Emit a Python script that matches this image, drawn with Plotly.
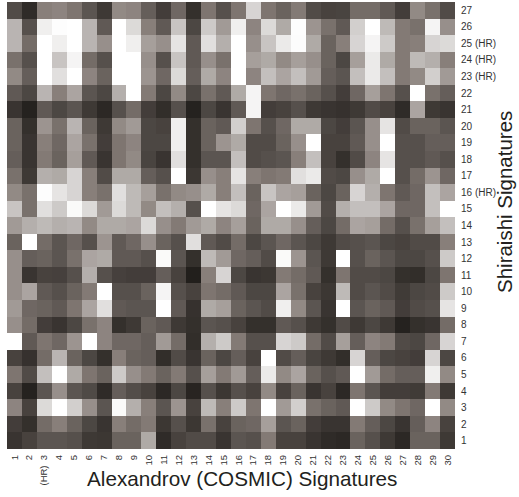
import plotly.graph_objects as go

x_labels = [str(i) for i in range(1, 31)]
x_labels[2] = "(HR)\u00a0\u00a03"
y_labels = [str(i) for i in range(1, 28)]
y_labels[15] = "16 (HR)"
y_labels[22] = "23 (HR)"
y_labels[23] = "24 (HR)"
y_labels[24] = "25 (HR)"
x_title = "Alexandrov (COSMIC) Signatures"
y_title = "Shiraishi Signatures"

# Brightness of each cell, top row (27) first, columns 1..30
row27 = [80,45,135,140,125,90,60,145,140,100,65,110,50,125,85,125,215,125,105,130,80,70,72,115,115,95,65,145,120,80]
row26 = [185,85,240,253,255,185,95,255,220,135,95,200,75,205,160,240,140,220,175,253,155,120,95,210,255,190,130,120,245,150]
row25 = [185,115,255,240,255,185,150,255,240,165,150,230,95,225,180,255,150,200,235,252,175,105,135,215,245,205,130,135,215,220]
row24 = [120,85,255,200,245,115,85,255,255,150,85,200,95,150,120,255,165,175,145,165,150,105,75,165,235,175,130,190,180,135]
row23 = [145,100,255,225,255,140,105,255,255,155,110,220,100,175,140,255,140,195,170,195,160,100,90,195,235,195,130,145,210,160]
row22 = [95,75,185,135,170,90,75,180,255,130,75,145,75,120,95,175,245,125,110,120,105,85,65,110,165,125,85,255,120,100]
row21 = [55,35,95,75,90,60,42,85,115,65,48,85,35,75,55,95,245,65,70,85,60,55,52,60,80,70,45,170,60,55]
row20 = [105,50,155,120,185,105,60,145,160,75,70,240,50,105,95,210,125,85,110,175,175,75,65,90,150,230,80,105,105,90]
row19 = [105,55,135,110,170,120,65,125,140,75,75,240,50,105,155,175,80,80,105,150,255,70,70,95,150,255,85,85,100,100]
row18 = [100,55,130,105,165,95,55,125,145,72,55,225,50,90,90,195,80,85,90,135,195,70,50,80,140,230,85,85,95,85]
row17 = [120,60,180,175,215,135,80,175,175,100,85,255,58,150,135,230,135,125,130,225,235,80,75,150,175,255,85,115,155,110]
row16 = [145,120,253,230,215,135,120,225,190,165,120,145,150,175,135,195,105,200,170,165,105,75,105,215,180,125,95,110,195,170]
row15 = [200,120,225,205,250,220,160,220,190,145,195,180,85,255,230,220,110,170,255,235,160,80,180,195,195,170,110,110,195,255]
row14 = [160,180,190,180,185,145,175,175,170,220,150,130,160,175,140,165,105,175,175,150,100,75,115,170,165,115,85,120,165,195]
row13 = [105,255,115,90,110,85,155,95,110,150,105,85,225,95,80,115,75,90,110,90,75,60,80,85,90,75,70,80,80,135]
row12 = [150,100,105,90,120,170,175,95,95,85,250,90,50,190,160,110,100,80,250,155,90,60,255,85,105,90,75,75,85,205]
row11 = [150,55,70,68,85,180,85,68,65,65,100,70,32,135,215,75,55,58,130,115,95,50,125,80,80,75,50,48,75,125]
row10 = [150,170,95,85,105,130,255,85,85,105,245,85,70,125,115,95,75,75,170,120,70,58,190,80,90,80,62,75,80,205]
row9 = [160,110,105,95,125,170,225,95,90,90,255,95,52,175,165,105,90,80,240,145,90,55,255,90,105,95,65,80,85,230]
row8 = [150,115,65,55,75,120,140,50,60,105,95,60,50,90,85,70,50,50,95,85,60,50,80,60,75,60,35,50,55,115]
row7 = [255,95,125,110,155,255,140,110,110,100,160,115,48,180,205,130,85,85,215,205,115,80,165,100,140,130,80,75,110,215]
row6 = [70,52,115,185,105,75,50,135,105,100,48,80,55,105,75,100,70,255,80,100,72,60,48,215,100,75,70,65,215,75]
row5 = [125,80,195,255,175,125,105,205,150,130,105,130,85,165,130,160,100,235,145,170,105,85,95,255,160,115,100,100,240,145]
row4 = [70,35,90,150,90,78,45,100,82,70,42,75,38,85,58,85,70,145,70,105,55,70,42,125,90,65,65,62,130,60]
row3 = [140,70,220,255,210,150,90,250,180,135,90,155,70,190,135,205,125,255,160,210,120,105,95,255,205,145,125,110,255,145]
row2 = [65,50,115,135,105,75,55,135,115,130,58,85,58,120,70,105,110,165,90,105,65,55,55,130,100,75,55,100,140,70]
row1 = [55,70,90,90,85,60,58,105,105,175,45,70,80,80,55,90,85,130,70,70,55,45,42,105,85,60,42,105,105,60]

z = [row1, row2, row3, row4, row5, row6, row7, row8, row9, row10, row11, row12, row13, row14,
     row15, row16, row17, row18, row19, row20, row21, row22, row23, row24, row25, row26, row27]

fig = go.Figure(go.Heatmap(
    z=z, x=x_labels, y=y_labels, zmin=30, zmax=255, showscale=False,
    colorscale=[[0, "rgb(32,29,26)"], [0.45, "rgb(132,123,118)"], [1, "rgb(255,255,255)"]],
))
fig.update_layout(
    width=519, height=497, autosize=False,
    margin=dict(l=7, r=64, t=2, b=48),
    paper_bgcolor="white", plot_bgcolor="white",
    font=dict(family="Liberation Sans", color="#231f20"),
    xaxis=dict(type="category", tickangle=-90, ticks="", showgrid=False, zeroline=False,
               automargin=False, ticklabelstandoff=3, tickfont=dict(size=9.5, color="#333")),
    yaxis=dict(type="category", side="right", ticks="", showgrid=False, zeroline=False,
               automargin=False, ticklabelstandoff=5, tickfont=dict(size=10, color="#333")),
    annotations=[
        dict(text=x_title, xref="paper", yref="paper", x=(242 - 7) / 448, y=-(479 - 449) / 447,
             xanchor="center", yanchor="middle", showarrow=False, font=dict(size=20.7)),
        dict(text=y_title, xref="paper", yref="paper", x=(504 - 7) / 448, y=(449 - 202) / 447,
             xanchor="center", yanchor="middle", showarrow=False, textangle=-90, font=dict(size=20.5)),
    ],
)
fig.write_html("out.html", config={"displayModeBar": False},
               post_script="document.body.style.margin='0';document.documentElement.style.overflow='hidden';")
